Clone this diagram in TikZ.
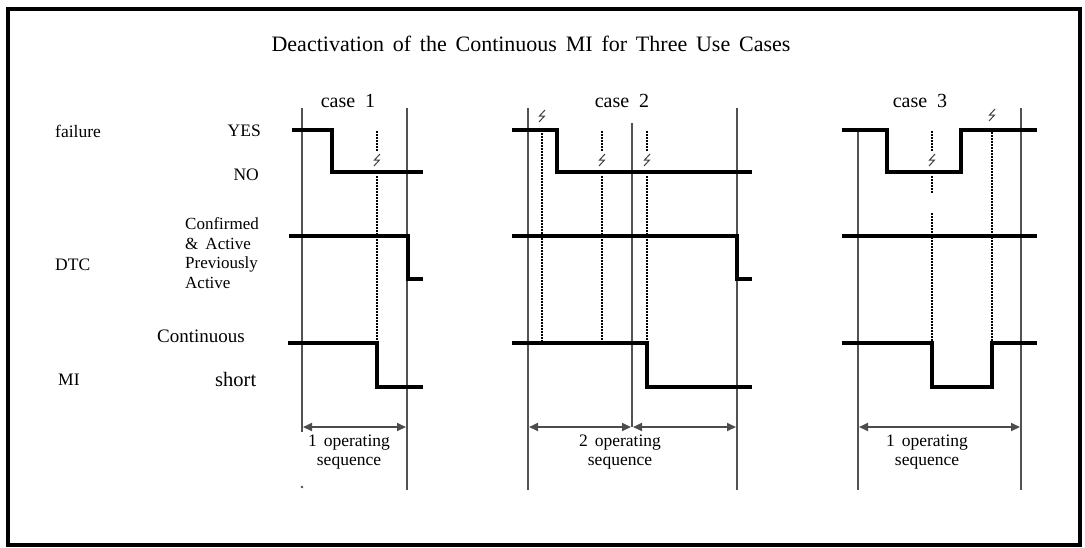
\documentclass[tikz,border=0pt]{standalone}
\usepackage{fontspec}
\setmainfont{Liberation Serif}
\usetikzlibrary{arrows.meta}
\begin{document}
\begin{tikzpicture}[x=1pt,y=-1pt,
  sig/.style={line width=3.4pt,black,line join=miter},
  grid/.style={line width=2.6pt,black!68},
  dots/.style={line width=2pt,black,dash pattern=on 1.5pt off 1.5pt},
  dimarrow/.style={line width=2pt,black!70,{Triangle[length=9pt,width=8pt]}-{Triangle[length=9pt,width=8pt]}},
  bolt/.style={line width=1pt,black!75},
  lbl/.style={font=\fontsize{17.5}{19}\selectfont,inner sep=0pt},
  small/.style={font=\fontsize{17}{19.5}\selectfont,inner sep=0pt,align=left},
  seq/.style={font=\fontsize{17.5}{19}\selectfont,inner sep=0pt,align=center},
  casel/.style={font=\fontsize{20}{22}\selectfont,inner sep=0pt}]
\useasboundingbox (0,0) rectangle (1085,547);
\draw[line width=4pt] (8,9) rectangle (1080,545);
\newcommand\mybolt[2]{\draw[bolt] (#1+3,#2-6) -- (#1-2.5,#2) -- (#1+2.5,#2) -- (#1-3,#2+6);}
% title
\node[lbl,font=\fontsize{22}{24}\selectfont] (title) at (531,44) {Deactivation\hspace{0.4em}of\hspace{0.4em}the\hspace{0.4em}Continuous\hspace{0.4em}MI\hspace{0.4em}for\hspace{0.4em}Three\hspace{0.4em}Use\hspace{0.4em}Cases};
% left labels
\node[lbl,anchor=west] (failure) at (55,131) {failure};
\node[lbl,anchor=west] (dtc) at (55,265) {DTC};
\node[lbl,anchor=west] (mi) at (58,380) {MI};
\node[lbl,anchor=east] (yes) at (261,131) {YES};
\node[lbl,anchor=east] (no) at (259,175) {NO};
\node[small,anchor=west] (conf) at (185,253) {Confirmed\\\&\, Active\\Previously\\Active};
\node[lbl,anchor=west,font=\fontsize{19}{21}\selectfont] (cont) at (157,336) {Continuous};
\node[lbl,anchor=west,font=\fontsize{20.5}{22}\selectfont] (short) at (215,379) {short};
% case labels
\node[casel] (c1) at (348,101) {case\hspace{0.5em}1};
\node[casel] (c2) at (622,101) {case\hspace{0.5em}2};
\node[casel] (c3) at (920,101) {case\hspace{0.5em}3};

% ---------- case 1
\coordinate (a1) at (302,108); \coordinate (a1b) at (302,432);
\coordinate (b1) at (407,108); \coordinate (b1b) at (407,490);
\draw[grid] (a1) -- (a1b);
\fill[black!70] (302,487) circle (1.3);
\draw[grid] (b1) -- (b1b);
\draw[dots] (377,131) -- (377,152);
\mybolt{377}{160}
\draw[dots] (377,176) -- (377,341);
\draw[sig] (292,130) -- (332,130) -- (332,172) -- (423,172);
\draw[sig] (289,236) -- (408,236) -- (408,279) -- (423,279);
\draw[sig] (288,343) -- (377,343) -- (377,387) -- (423,387);
\draw[dimarrow] (303,427) -- (406,427);
\node[seq] (s1) at (349,452) {1\hspace{0.4em}operating\\sequence};

% ---------- case 2
\coordinate (a2) at (528,108); \coordinate (a2b) at (528,490);
\coordinate (m2) at (632,123); \coordinate (m2b) at (632,427);
\coordinate (b2) at (737,108); \coordinate (b2b) at (737,490);
\draw[grid] (a2) -- (a2b);
\draw[grid] (m2) -- (m2b);
\draw[grid] (b2) -- (b2b);
\mybolt{542}{116}
\draw[dots] (542,133) -- (542,341);
\draw[dots] (602,131) -- (602,152);
\mybolt{602}{160}
\draw[dots] (602,176) -- (602,341);
\draw[dots] (647,131) -- (647,152);
\mybolt{647}{160}
\draw[dots] (647,176) -- (647,341);
\draw[sig] (512,130) -- (557,130) -- (557,172) -- (752,172);
\draw[sig] (512,236) -- (737,236) -- (737,279) -- (752,279);
\draw[sig] (512,343) -- (647,343) -- (647,387) -- (752,387);
\draw[dimarrow] (529,427) -- (631,427);
\draw[dimarrow] (633,427) -- (736,427);
\node[seq] (s2) at (620,452) {2\hspace{0.4em}operating\\sequence};

% ---------- case 3
\coordinate (a3) at (858,130); \coordinate (a3b) at (858,490);
\coordinate (b3) at (1021,108); \coordinate (b3b) at (1021,490);
\draw[grid] (a3) -- (a3b);
\draw[grid] (b3) -- (b3b);
\draw[dots] (932,131) -- (932,152);
\mybolt{932}{160}
\draw[dots] (932,176) -- (932,193);
\draw[dots] (932,213) -- (932,341);
\mybolt{992}{115}
\draw[dots] (992,132) -- (992,341);
\draw[sig] (842,130) -- (887,130) -- (887,172) -- (961,172) -- (961,130) -- (1037,130);
\draw[sig] (842,236) -- (1037,236);
\draw[sig] (842,343) -- (932,343) -- (932,387) -- (992,387) -- (992,343) -- (1037,343);
\draw[dimarrow] (859,427) -- (1020,427);
\node[seq] (s3) at (927,452) {1\hspace{0.4em}operating\\sequence};
\end{tikzpicture}
\end{document}
